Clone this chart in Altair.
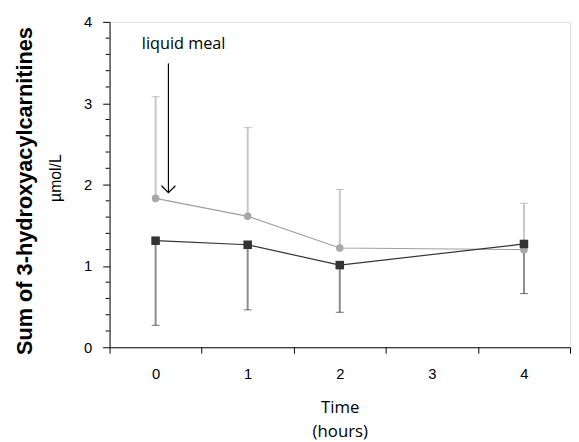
import altair as alt
import pandas as pd

# ---- data ----
categories = ["0", "1", "2", "3", "4"]
times = ["0", "1", "2", "4"]
grey_mean = [1.83, 1.61, 1.22, 1.20]
grey_upper = [3.08, 2.70, 1.94, 1.77]
dark_mean = [1.31, 1.26, 1.01, 1.27]
dark_lower = [0.27, 0.46, 0.43, 0.66]

y_major = [0, 1, 2, 3, 4]
y_minor = [0.2, 0.4, 0.6, 0.8, 1.2, 1.4, 1.6, 1.8, 2.2, 2.4, 2.6, 2.8,
           3.2, 3.4, 3.6, 3.8]

annot_label = "liquid meal"
annot_time = "0"
annot_text_y = 3.73
arrow_top = 3.49
arrow_bottom = 1.90
unit_label = "µmol/L"
unit_y = 2.08

grey = pd.DataFrame({"t": times, "mean": grey_mean, "err": grey_upper})
dark = pd.DataFrame({"t": times, "mean": dark_mean, "err": dark_lower})
annot = pd.DataFrame({"t": [annot_time], "label": [annot_label], "ty": [annot_text_y],
                      "top": [arrow_top], "bottom": [arrow_bottom]})
unit = pd.DataFrame({"label": [unit_label], "y": [unit_y]})
minor = pd.DataFrame({"v": y_minor})

LABEL_FONT = "Liberation Sans"
TEXT_FONT = "Open Sans"

x_enc = alt.X("t:O", scale=alt.Scale(domain=categories, type="band", paddingInner=0, paddingOuter=0),
              axis=alt.Axis(title=["Time", "(hours)"], labelAngle=0, tickBand="extent",
                            tickSize=6, tickColor="black", domainColor="black",
                            labelFont=LABEL_FONT, labelFontSize=15, labelPadding=14,
                            labelColor="black",
                            titleFont=TEXT_FONT, titleFontSize=17, titleFontWeight="normal",
                            titlePadding=18, titleColor="black", titleLineHeight=25))

y_scale = alt.Scale(domain=[0, 4], nice=False, zero=True)
y_axis = alt.Axis(title="Sum of 3-hydroxyacylcarnitines", values=y_major, format=".0f",
                  labelOverlap=False, tickSize=7,
                  tickColor="black", domainColor="black", grid=False,
                  labelFont=LABEL_FONT, labelFontSize=15, labelPadding=11, labelColor="black",
                  titleFont=LABEL_FONT, titleFontSize=22, titleFontWeight="bold",
                  titleX=-86, titleY=171, titleBaseline="middle", titleColor="black")

base_g = alt.Chart(grey)
base_d = alt.Chart(dark)

g_bar = base_g.mark_rule(color="#c8c8c8", strokeWidth=2).encode(
    x=x_enc, y=alt.Y("mean:Q", scale=y_scale, axis=y_axis), y2="err:Q")
g_cap = base_g.mark_tick(color="#a8a8a8", orient="horizontal", size=8, thickness=1).encode(
    x="t:O", y="err:Q")
d_bar = base_d.mark_rule(color="#8c8c8c", strokeWidth=2).encode(
    x="t:O", y="mean:Q", y2="err:Q")
d_cap = base_d.mark_tick(color="#333333", orient="horizontal", size=8, thickness=1).encode(
    x="t:O", y="err:Q")

g_line = base_g.mark_line(color="#a0a0a0", strokeWidth=1.2).encode(x="t:O", y="mean:Q")
g_pt = base_g.mark_point(shape="circle", filled=True, size=60, color="#a8a8a8", opacity=1).encode(
    x="t:O", y="mean:Q")
d_line = base_d.mark_line(color="#333333", strokeWidth=1.2).encode(x="t:O", y="mean:Q")
d_pt = base_d.mark_point(shape="square", filled=True, size=75, color="#333333", opacity=1).encode(
    x="t:O", y="mean:Q")

minor_ticks = alt.Chart(minor).mark_rule(color="black", strokeWidth=1).encode(
    x=alt.value(-4), x2=alt.value(0), y="v:Q")

a_text = alt.Chart(annot).mark_text(align="left", baseline="middle", dx=-14, font=TEXT_FONT,
                                    fontSize=16.5, color="black").encode(
    x="t:O", y="ty:Q", text="label:N")
a_rule = alt.Chart(annot).mark_rule(color="black", strokeWidth=1.2, xOffset=13).encode(
    x="t:O", y="top:Q", y2="bottom:Q")
a_head = alt.Chart(annot).mark_point(shape="M -1 -1 L 0 0 L 1 -1", filled=False, size=200,
                                     color="black", strokeWidth=1.2, xOffset=13, opacity=1).encode(
    x="t:O", y="bottom:Q")

u_text = alt.Chart(unit).mark_text(angle=270, baseline="middle", align="center", font=LABEL_FONT,
                                   fontSize=16, color="black").encode(
    x=alt.value(-54), y="y:Q", text="label:N")

chart = alt.layer(g_bar, g_cap, d_bar, d_cap, g_line, d_line, g_pt, d_pt, minor_ticks,
                  a_text, a_rule, a_head, u_text).properties(
    width=467, height=330,
    autosize=alt.AutoSizeParams(type="none"),
    padding={"left": 103, "top": 11, "right": 1, "bottom": 93},
).configure_view(stroke=None).configure(background="white")

chart.save("out.html", embed_options={"renderer": "svg", "actions": False})
